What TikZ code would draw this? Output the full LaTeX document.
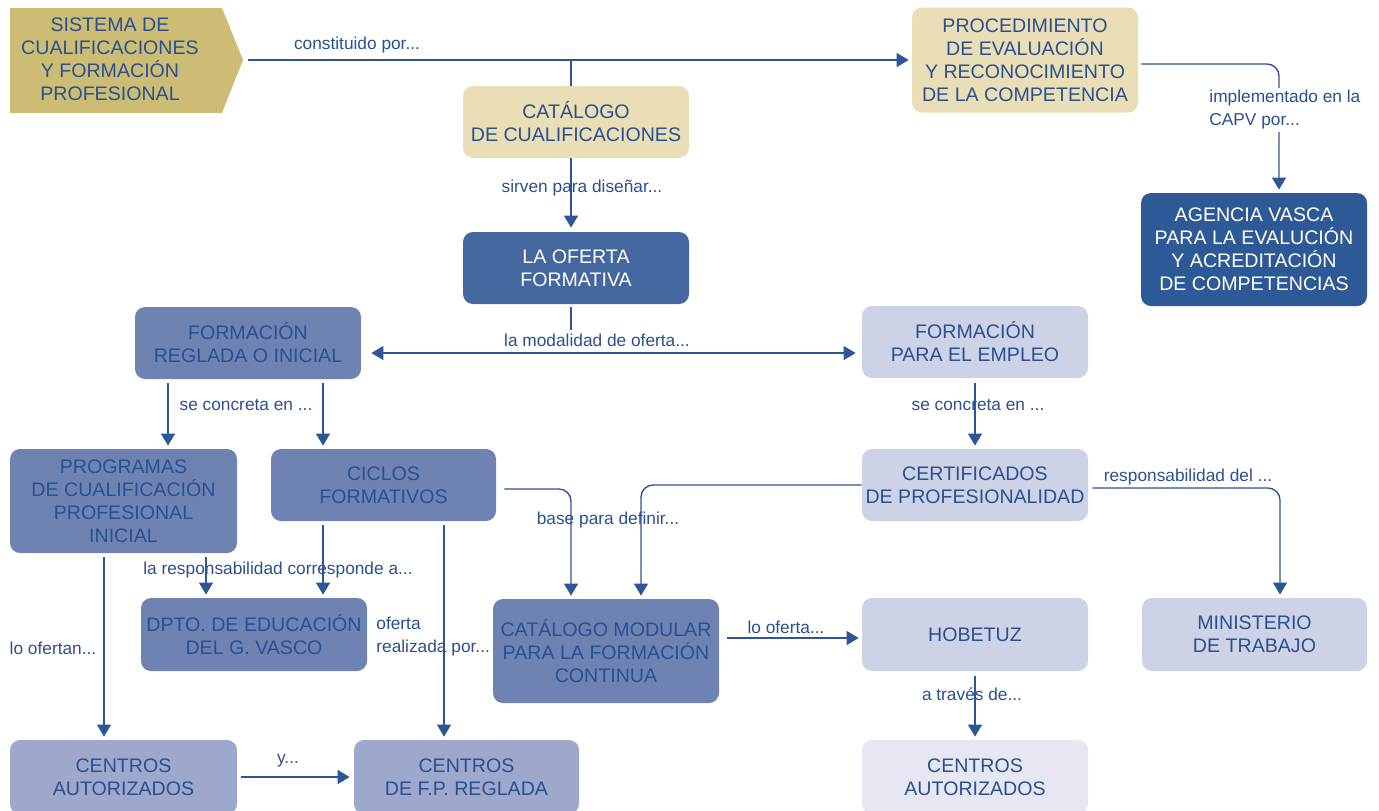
\documentclass[tikz,border=0pt]{standalone}
\usepackage{fontspec}
\setmainfont{Liberation Sans}
\usepackage{xcolor}
\usepackage{tikz}
\usetikzlibrary{arrows.meta, positioning, calc}
\definecolor{gold}{HTML}{CDBD74}
\definecolor{beige}{HTML}{E9DEB6}
\definecolor{oferta}{HTML}{4467A0}
\definecolor{agencia}{HTML}{2D5A96}
\definecolor{medio}{HTML}{6F83B3}
\definecolor{claro}{HTML}{9DA8CC}
\definecolor{suave}{HTML}{CDD2E6}
\definecolor{palido}{HTML}{E6E7F2}
\definecolor{azul}{HTML}{2A5090}
\definecolor{linea}{HTML}{2E5596}
\tikzstyle{arrow} = [line width=0.7pt, draw=linea, -{Triangle[length=6pt,width=7pt]}, shorten >=1.5pt]
\tikzset{every node/.style={align=center}}

\begin{document}
\begin{tikzpicture}[x=0.5pt, y=-0.5pt,
    box/.style={rounded corners=5pt, inner sep=0pt, text=azul,
                font=\fontsize{9.8}{11.5}\selectfont},
    dark/.style={box, text=white},
    conn/.style={line width=0.7pt, draw=linea},
    lbl/.style={font=\fontsize{8.65}{11.5}\selectfont, text=azul, inner sep=1pt}
]
  \useasboundingbox (0,0) rectangle (1379,810);
  \clip (0,0) rectangle (1379,810);
  % Top row
  \fill[gold] (10,8) -- (222,8) -- (243,60) -- (222,113) -- (10,113) -- cycle;
  \node (SCF)  at (110,59)   [box] {SISTEMA DE\\CUALIFICACIONES\\Y FORMACIÓN\\PROFESIONAL};
  \coordinate (SCFtip) at (243,60);
  \node (CAT)  at (576,122)  [box, fill=beige, minimum width=113pt, minimum height=36pt] {CATÁLOGO\\DE CUALIFICACIONES};
  \node (PROC) at (1025,60)  [box, fill=beige, minimum width=113pt, minimum height=52.5pt] {PROCEDIMIENTO\\DE EVALUACIÓN\\Y RECONOCIMIENTO\\DE LA COMPETENCIA};
  \node (OF)   at (576,268)  [dark, fill=oferta, minimum width=113pt, minimum height=36pt] {LA OFERTA\\FORMATIVA};
  \node (AVA)  at (1254,249.5) [dark, fill=agencia, minimum width=113pt, minimum height=56.5pt] {AGENCIA VASCA\\PARA LA EVALUCIÓN\\Y ACREDITACIÓN\\DE COMPETENCIAS};
  % Middle rows
  \node (FRI)  at (248,343)  [box, fill=medio, minimum width=113pt, minimum height=36pt] {FORMACIÓN\\REGLADA O INICIAL};
  \node (FPE)  at (975,342)  [box, fill=suave, minimum width=113pt, minimum height=36pt] {FORMACIÓN\\PARA EL EMPLEO};
  \node (PCPI) at (123.5,501) [box, fill=medio, minimum width=113.5pt, minimum height=52pt] {PROGRAMAS\\DE CUALIFICACIÓN\\PROFESIONAL\\INICIAL};
  \node (CF)   at (383.5,485) [box, fill=medio, minimum width=112.5pt, minimum height=36pt] {CICLOS\\FORMATIVOS};
  \node (CP)   at (975,485)  [box, fill=suave, minimum width=113pt, minimum height=36pt] {CERTIFICADOS\\DE PROFESIONALIDAD};
  \node (DPTO) at (254,634.5) [box, fill=medio, minimum width=113pt, minimum height=36.5pt] {DPTO. DE EDUCACIÓN\\DEL G. VASCO};
  \node (CMFC) at (606,651)  [box, fill=medio, minimum width=113pt, minimum height=52pt] {CATÁLOGO MODULAR\\PARA LA FORMACIÓN\\CONTINUA};
  \node (HOB)  at (975,634.5) [box, fill=suave, minimum width=113pt, minimum height=36.5pt] {HOBETUZ};
  \node (MIN)  at (1254.5,634.5) [box, fill=suave, minimum width=112.5pt, minimum height=36.5pt] {MINISTERIO\\DE TRABAJO};
  % Bottom row
  \node (CA1)  at (123.5,777) [box, fill=claro, minimum width=113.5pt, minimum height=37pt] {CENTROS\\AUTORIZADOS};
  \node (CFP)  at (466.5,777) [box, fill=claro, minimum width=112.5pt, minimum height=37pt] {CENTROS\\DE F.P. REGLADA};
  \node (CA2)  at (975,777)  [box, fill=palido, minimum width=113pt, minimum height=37pt] {CENTROS\\AUTORIZADOS};
  % Connectors
  \coordinate (jn) at (571,60);
  \draw[arrow] ($(SCFtip)+(5,0)$) -- (PROC.west);
  \draw[conn] (jn) -- (jn |- CAT.north);
  \draw[arrow, shorten >=2pt] (jn |- CAT.south) -- (jn |- OF.north);
  \draw[arrow, rounded corners=6pt] ($(PROC.east)+(3,4)$) -| (1279,0 |- AVA.north);
  \draw[conn] ($(jn |- OF.south)+(0,3)$) -- (571,330);
  \draw[arrow, {Triangle[length=6pt,width=7pt]}-{Triangle[length=6pt,width=7pt]}, shorten <=5pt, shorten >=3pt]
      (FRI.east |- 0,353) -- (FPE.west |- 0,353);
  \draw[arrow, shorten <=2pt] (168,0 |- FRI.south) -- (168,0 |- PCPI.north);
  \draw[arrow, shorten <=2pt] (323,0 |- FRI.south) -- (323,0 |- CF.north);
  \draw[arrow, shorten <=2.5pt] (FPE) -- (CP);
  \draw[arrow, rounded corners=6pt] ($(CF.east)+(8,4)$) -| (571,0 |- CMFC.north);
  \draw[arrow, rounded corners=6pt] (CP.west) -| (641,0 |- CMFC.north);
  \draw[arrow, rounded corners=6pt] ($(CP.east)+(4,3)$) -| (1280,0 |- MIN.north);
  \draw[arrow, shorten <=2pt] (104,0 |- PCPI.south) -- (104,0 |- CA1.north);
  \draw[arrow, shorten <=2pt] (206,0 |- PCPI.south) -- (206,0 |- DPTO.north);
  \draw[arrow, shorten <=2pt] (323,0 |- CF.south) -- (323,0 |- DPTO.north);
  \draw[arrow, shorten <=2pt] (444,0 |- CF.south) -- (444,0 |- CFP.north);
  \draw[arrow, shorten <=2pt, shorten >=2pt] (CA1.east) -- (CFP.west);
  \draw[arrow, shorten <=4pt] (CMFC.east |- 0,638) -- (HOB.west |- 0,638);
  \draw[arrow, shorten <=2.5pt] (HOB) -- (CA2);
  % Labels
  \node[lbl] (lcon) at (357,45)  {constituido por...};
  \node[lbl] (lsir) at (582,188) {sirven para diseñar...};
  \node[lbl, fill=white, align=left, anchor=west] (limp) at (1207,110) {implementado en la\\CAPV por...};
  \node[lbl] (lmod) at (597,340) {la modalidad de oferta...};
  \node[lbl] (lsc1) at (246,405) {se concreta en ...};
  \node[lbl] (lsc2) at (978,405) {se concreta en ...};
  \node[lbl] (lbas) at (608,520) {base para definir...};
  \node[lbl] (lres) at (1188,477) {responsabilidad del ...};
  \node[lbl] (lcor) at (278,570) {la responsabilidad corresponde a...};
  \node[lbl] (lofn) at (53,648)  {lo ofertan...};
  \node[lbl, align=left, anchor=west] (lrea) at (374,637) {oferta\\realizada por...};
  \node[lbl] (lofa) at (786,627) {lo oferta...};
  \node[lbl] (ltra) at (972,694) {a través de...};
  \node[lbl] (ly)   at (288,761) {y...};
\end{tikzpicture}
\end{document}
